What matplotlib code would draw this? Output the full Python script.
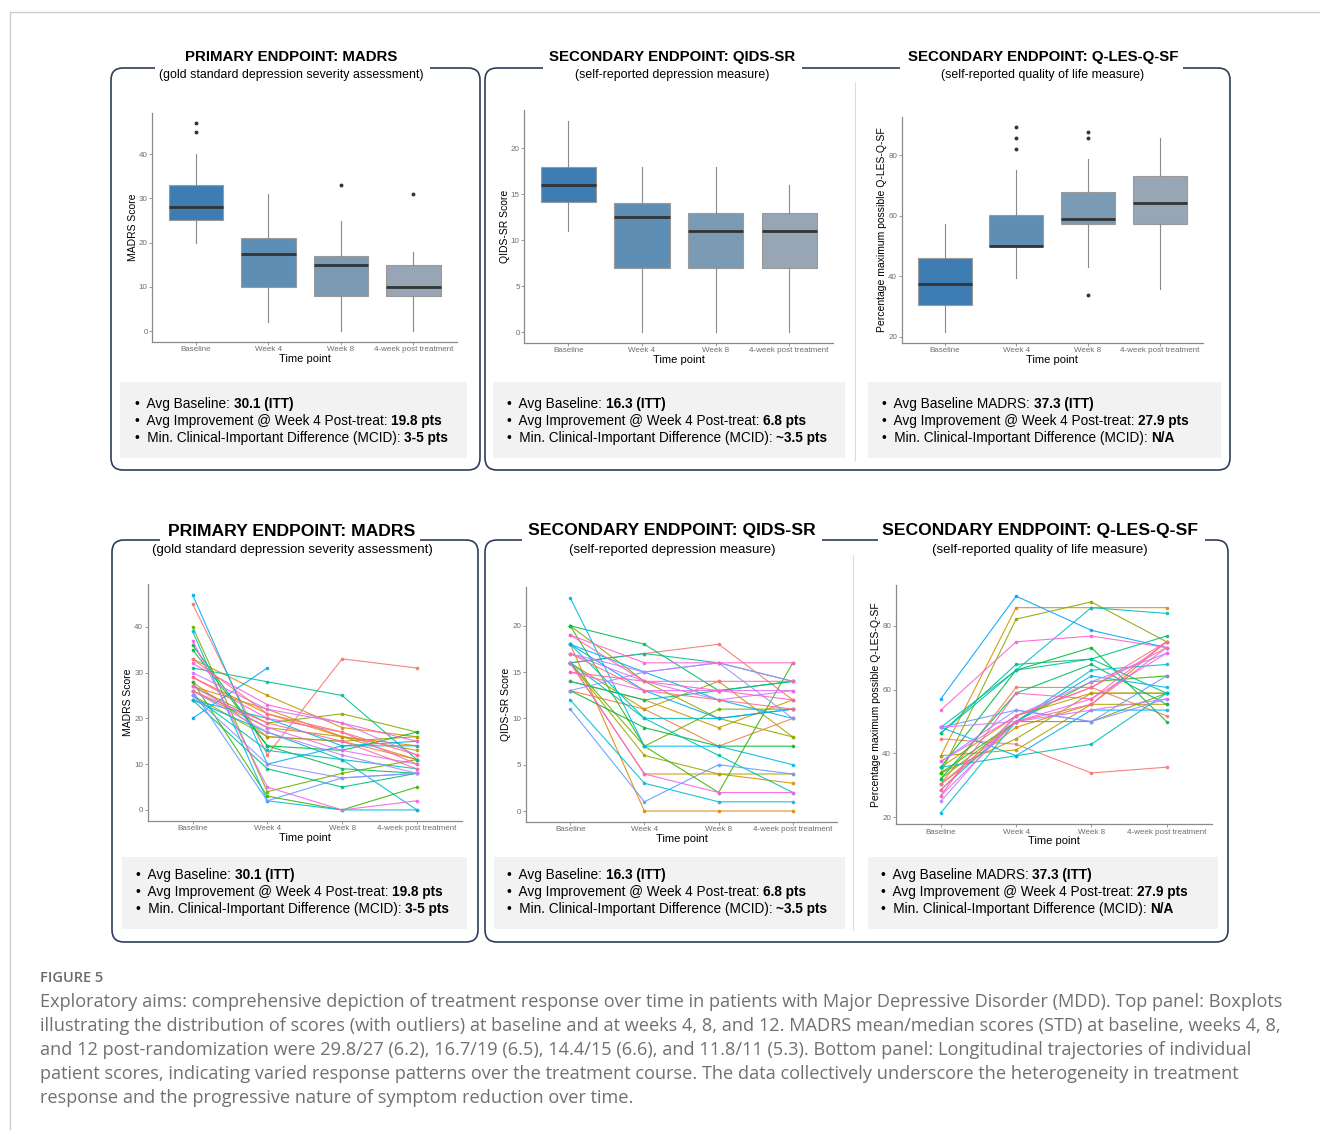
import numpy as np
import matplotlib
matplotlib.use('Agg')
import matplotlib.pyplot as plt
from matplotlib.patches import FancyBboxPatch, Rectangle

plt.rcParams['font.family'] = ['Liberation Sans', 'DejaVu Sans']

W, H = 1320, 1130

time_points = ['Baseline', 'Week 4', 'Week 8', '4-week post treatment']

# ---- top row: boxplot summaries ----
madrs_whislo = [20, 2, 0, 0]
madrs_q1 = [25.2, 10, 8, 8]
madrs_med = [28, 17.5, 15, 10]
madrs_q3 = [33, 21, 17, 15]
madrs_whishi = [40, 31, 25, 18]
madrs_fliers = [[45, 47], [], [33], [31]]

qids_whislo = [11, 0, 0, 0]
qids_q1 = [14.2, 7, 7, 7]
qids_med = [16, 12.5, 11, 11]
qids_q3 = [18, 14, 13, 13]
qids_whishi = [23, 18, 18, 16]
qids_fliers = [[], [], [], []]

qles_whislo = [21.4, 39.3, 42.9, 35.7]
qles_q1 = [30.4, 50.0, 57.1, 57.1]
qles_med = [37.5, 50.0, 58.9, 64.3]
qles_q3 = [46.0, 60.3, 67.9, 73.2]
qles_whishi = [57.1, 75.0, 78.6, 85.7]
qles_fliers = [[], [82.1, 85.7, 89.3], [33.9, 85.7, 87.5], []]

# ---- bottom row: individual patient trajectories ----
nan = np.nan
madrs_base = [45, 28, 29, 27, 33, 26, 25, 27, 40, 28, 36, 35, 24, 31, 25, 24, 39, 24, 47,
              20, 26, 25, 26, 30, 27, 37, 32, 29, 26, 33]
madrs_w4 = [12, 16, 21, 22, 25, 18, 16, 19, 4, 3, 14, 14, 9, 28, 13, 17, 2, 20, 10,
            31, 2, 10, 17, 22, 18, 5, 23, 20, 19, 21]
madrs_w8 = [33, 15, 16, 16, 18, 16, 15, 21, 8, 0, 13, 9, 5, 25, 11, 11, 0, 14, 14,
            nan, 7, 7, 12, 19, 13, 0, 19, 17, 15, 17]
madrs_post = [31, 11, 14, 11, 16, 13, 16, 17, 11, 5, 17, 8, 8, 11, 9, 0, 0, 14, 15,
              nan, 8, 8, 8, 12, 10, 2, 15, 10, 9, 12]

qids_base = [16, 13, 18, 16, 14, 16, 16, 20, 16, 20, 13, 20, 14, 16, 18, 16, 12, 23, 18,
             18, 11, 13, 17, 17, 15, 16, 19, 19, 15, 17]
qids_w4 = [17, 11, 0, 4, 12, 11, 6, 14, 7, 7, 9, 18, 12, 17, 10, 10, 3, 7, 15,
           13, 1, 15, 15, 14, 13, 4, 16, 14, 14, 13]
qids_w8 = [18, 7, 0, 4, 9, 14, 4, 10, 11, 2, 7, 13, 13, 16, 6, 10, 1, 7, 12,
           10, 5, 16, 16, 12, 13, 2, 16, 13, 14, 12]
qids_post = [12, 10, 0, 3, 12, 8, 4, 8, 11, 16, 7, 14, 14, 14, 2, 11, 1, 5, 10,
             11, 4, 10, 14, 13, 13, 2, 16, 12, 14, 11]

qles_base = [44.6, 30.4, 30.4, 39.3, 35.7, 39.3, 33.9, 33.9, 32.1, 33.9, 35.7, 32.1, 46.4, 46.4,
             35.7, 48.2, 21.4, 28.6, 48.2, 57.1, 48.2, 37.5, 25.0, 48.2, 26.8, 37.5, 53.6,
             26.8, 30.4, 28.6]
qles_w4 = [42.9, 60.7, 48.2, 85.7, 51.8, 41.1, 44.6, 82.1, 50.0, 50.0, 66.1, 58.9, 67.9, 66.1,
           39.3, 66.1, 50.0, 50.0, 39.3, 89.3, 53.6, 53.6, 51.8, 50.0, 50.0, 51.8, 75.0,
           58.9, 50.0, 51.8]
qles_w8 = [33.9, 60.7, 55.4, 85.7, 58.9, 55.4, 58.9, 87.5, 50.0, 62.5, 73.2, 67.9, 69.6, 69.6,
           42.9, 85.7, 66.1, 64.3, 53.6, 78.6, 50.0, 50.0, 62.5, 53.6, 57.1, 60.7, 76.8,
           57.1, 55.4, 60.7]
qles_post = [35.7, 51.8, 75.0, 85.7, 58.9, 55.4, 58.9, 75.0, 58.9, 64.3, 50.0, 55.4, 76.8, 58.9,
             58.9, 83.9, 67.9, 60.7, 53.6, 73.2, 64.3, 57.1, 71.4, 57.1, 71.4, 73.2, 73.2,
             75.0, 73.2, 75.0]

box_colors = ['#3e7db4', '#5f8eb4', '#7b9bb4', '#97a5b4']
frame_col = '#2f3d5a'
text_rows = [
    [('•  Avg Baseline: ', '30.1 (ITT)'),
     ('•  Avg Improvement @ Week 4 Post-treat: ', '19.8 pts'),
     ('•  Min. Clinical-Important Difference (MCID): ', '3-5 pts')],
    [('•  Avg Baseline: ', '16.3 (ITT)'),
     ('•  Avg Improvement @ Week 4 Post-treat: ', '6.8 pts'),
     ('•  Min. Clinical-Important Difference (MCID): ', '~3.5 pts')],
    [('•  Avg Baseline MADRS: ', '37.3 (ITT)'),
     ('•  Avg Improvement @ Week 4 Post-treat: ', '27.9 pts'),
     ('•  Min. Clinical-Important Difference (MCID): ', 'N/A')],
]
titles = ['PRIMARY ENDPOINT: MADRS', 'SECONDARY ENDPOINT: QIDS-SR', 'SECONDARY ENDPOINT: Q-LES-Q-SF']
subtitles = ['(gold standard depression severity assessment)', '(self-reported depression measure)',
             '(self-reported quality of life measure)']
caption = [
    'Exploratory aims: comprehensive depiction of treatment response over time in patients with Major Depressive Disorder (MDD). Top panel: Boxplots',
    'illustrating the distribution of scores (with outliers) at baseline and at weeks 4, 8, and 12. MADRS mean/median scores (STD) at baseline, weeks 4, 8,',
    'and 12 post-randomization were 29.8/27 (6.2), 16.7/19 (6.5), 14.4/15 (6.6), and 11.8/11 (5.3). Bottom panel: Longitudinal trajectories of individual',
    'patient scores, indicating varied response patterns over the treatment course. The data collectively underscore the heterogeneity in treatment',
    'response and the progressive nature of symptom reduction over time.',
]


def hue_pal(n, l=65, c=100, h0=15):
    # ggplot2 default hue palette (HCL -> sRGB)
    Xn, Yn, Zn = 95.047, 100.0, 108.883
    un = 4 * Xn / (Xn + 15 * Yn + 3 * Zn)
    vn = 9 * Yn / (Xn + 15 * Yn + 3 * Zn)
    out = []
    for h in np.linspace(h0, h0 + 360, n + 1)[:-1]:
        u, v = c * np.cos(np.radians(h)), c * np.sin(np.radians(h))
        Y = Yn * ((l + 16) / 116) ** 3
        up, vp = u / (13 * l) + un, v / (13 * l) + vn
        X = Y * 9 * up / (4 * vp)
        Z = Y * (12 - 3 * up - 20 * vp) / (4 * vp)
        M = np.array([[3.2406, -1.5372, -0.4986], [-0.9689, 1.8758, 0.0415], [0.0557, -0.2040, 1.0570]])
        rgb = M @ (np.array([X, Y, Z]) / 100)
        rgb = np.where(rgb <= 0.0031308, 12.92 * rgb, 1.055 * np.clip(rgb, 0, None) ** (1 / 2.4) - 0.055)
        out.append(tuple(np.clip(rgb, 0, 1)))
    return out


fig = plt.figure(figsize=(W / 100, H / 100), dpi=100)
fig.patch.set_facecolor('white')

bg = fig.add_axes([0, 0, 1, 1], zorder=-1)
bg.set_xlim(0, W)
bg.set_ylim(H, 0)
bg.axis('off')


def px_axes(x0, y0, x1, y1):
    ax = fig.add_axes([x0 / W, 1 - y1 / H, (x1 - x0) / W, (y1 - y0) / H])
    ax.patch.set_alpha(0)
    return ax


def style_axes(ax, ylim, yticks, ylabel):
    ax.set_xlim(0.4, 4.6)
    ax.set_ylim(*ylim)
    ax.set_xticks([1, 2, 3, 4])
    ax.set_xticklabels(time_points)
    ax.set_yticks(yticks)
    for s in ['top', 'right']:
        ax.spines[s].set_visible(False)
    for s in ['left', 'bottom']:
        ax.spines[s].set_color('#8a8a8a')
        ax.spines[s].set_linewidth(0.9)
    ax.tick_params(color='#8a8a8a', labelcolor='#6e6e6e', labelsize=5.8, length=2, width=0.6, pad=1.3)
    ax.set_xlabel('Time point', fontsize=8, labelpad=0.5)
    ax.set_ylabel(ylabel, fontsize=7.5, labelpad=0.8)


def draw_box(ax, whislo, q1, med, q3, whishi, fliers):
    stats = [dict(whislo=whislo[i], q1=q1[i], med=med[i], q3=q3[i], whishi=whishi[i],
                  fliers=fliers[i]) for i in range(4)]
    bp = ax.bxp(stats, positions=[1, 2, 3, 4], widths=0.75, patch_artist=True, showcaps=False,
                medianprops=dict(color='#333333', lw=2),
                boxprops=dict(edgecolor='#9a9a9a', lw=0.8),
                whiskerprops=dict(color='#8a8a8a', lw=0.8),
                flierprops=dict(marker='o', markerfacecolor='#333333', markeredgecolor='none',
                                markersize=2.8))
    for patch, col in zip(bp['boxes'], box_colors):
        patch.set_facecolor(col)


def draw_lines(ax, base, w4, w8, post):
    data = np.array([base, w4, w8, post], dtype=float)
    cols = hue_pal(data.shape[1])
    for i in range(data.shape[1]):
        ax.plot([1, 2, 3, 4], data[:, i], color=cols[i], lw=0.8, alpha=0.9, marker='o',
                markersize=2.6, markeredgewidth=0)


# top row boxplots
ax = px_axes(152.3, 112.7, 457, 341.7)
draw_box(ax, madrs_whislo, madrs_q1, madrs_med, madrs_q3, madrs_whishi, madrs_fliers)
style_axes(ax, (-2.35, 49.35), [0, 10, 20, 30, 40], 'MADRS Score')

ax = px_axes(524.3, 110, 833.3, 342.7)
draw_box(ax, qids_whislo, qids_q1, qids_med, qids_q3, qids_whishi, qids_fliers)
style_axes(ax, (-1.15, 24.15), [0, 5, 10, 15, 20], 'QIDS-SR Score')

ax = px_axes(901.7, 116.7, 1202.7, 342.7)
draw_box(ax, qles_whislo, qles_q1, qles_med, qles_q3, qles_whishi, qles_fliers)
style_axes(ax, (18.0, 92.7), [20, 40, 60, 80], 'Percentage maximum possible Q-LES-Q-SF')

# bottom row trajectories
ax = px_axes(147.7, 584, 461.7, 820.7)
draw_lines(ax, madrs_base, madrs_w4, madrs_w8, madrs_post)
style_axes(ax, (-2.35, 49.35), [0, 10, 20, 30, 40], 'MADRS Score')

ax = px_axes(525.7, 587.3, 837.3, 821.7)
draw_lines(ax, qids_base, qids_w4, qids_w8, qids_post)
style_axes(ax, (-1.15, 24.15), [0, 5, 10, 15, 20], 'QIDS-SR Score')

ax = px_axes(895.7, 585, 1211.7, 824)
draw_lines(ax, qles_base, qles_w4, qles_w8, qles_post)
style_axes(ax, (17.9, 92.8), [20, 40, 60, 80], 'Percentage maximum possible Q-LES-Q-SF')


# frames, titles, summary boxes
def frame(x0, y0, x1, y1, gaps):
    r = 12
    bg.add_patch(FancyBboxPatch((x0 + r, y0 + r), x1 - x0 - 2 * r, y1 - y0 - 2 * r,
                                boxstyle=f'round,pad={r},rounding_size={r}',
                                fc='none', ec=frame_col, lw=1.2))
    for g0, g1 in gaps:
        bg.add_patch(Rectangle((g0, y0 - 4), g1 - g0, 8, fc='white', ec='none', zorder=3))


frame(111, 68, 480, 470, [(155, 430)])
frame(485, 68, 1230, 470, [(543, 802), (900, 1183)])
frame(112, 540, 478, 942, [(160, 420)])
frame(485, 540, 1228, 942, [(522, 822), (878, 1205)])
bg.plot([855, 855], [82, 460], color='#dddddd', lw=0.8)
bg.plot([853, 853], [555, 930], color='#dddddd', lw=0.8)

for cx, t, s in zip([291, 672, 1043], titles, subtitles):
    bg.text(cx, 57, t, ha='center', va='center', fontsize=10.8, weight='bold', zorder=4)
    bg.text(cx, 75, s, ha='center', va='center', fontsize=8.9, zorder=4)
for cx, t, s in zip([292, 672, 1040], titles, subtitles):
    bg.text(cx, 531, t, ha='center', va='center', fontsize=12.6, weight='bold', zorder=4)
    bg.text(cx, 550, s, ha='center', va='center', fontsize=9.5, zorder=4)


def summary(x0, y0, x1, y1, tx, ys, rows):
    bg.add_patch(Rectangle((x0, y0), x1 - x0, y1 - y0, fc='#f2f2f2', ec='none'))
    for y, (plain, bold) in zip(ys, rows):
        t = bg.text(tx, y, plain, ha='left', va='center', fontsize=9.85)
        bg.annotate(bold, xy=(1, 0), xycoords=t, ha='left', va='bottom', fontsize=9.85, weight='bold')


summary(120, 382, 467, 458, 135, [404, 421, 438], text_rows[0])
summary(493, 382, 845, 458, 507, [404, 421, 438], text_rows[1])
summary(868, 382, 1221, 458, 882, [404, 421, 438], text_rows[2])
summary(122, 857, 467, 929, 136, [875, 892, 909], text_rows[0])
summary(494, 857, 845, 929, 507, [875, 892, 909], text_rows[1])
summary(868, 857, 1218, 929, 881, [875, 892, 909], text_rows[2])

# page border and caption
bg.plot([10, 10, W], [H, 12, 12], color='#cccccc', lw=1)
bg.text(40, 978, 'FIGURE 5', ha='left', va='center', fontsize=10.5, color='#6b6b6b',
        family='Open Sans', weight='semibold')
for i, line in enumerate(caption):
    bg.text(40, 1002 + 24 * i, line, ha='left', va='center', fontsize=13.1, color='#707070',
            family='Open Sans')

fig.savefig('out.png', dpi=100)
